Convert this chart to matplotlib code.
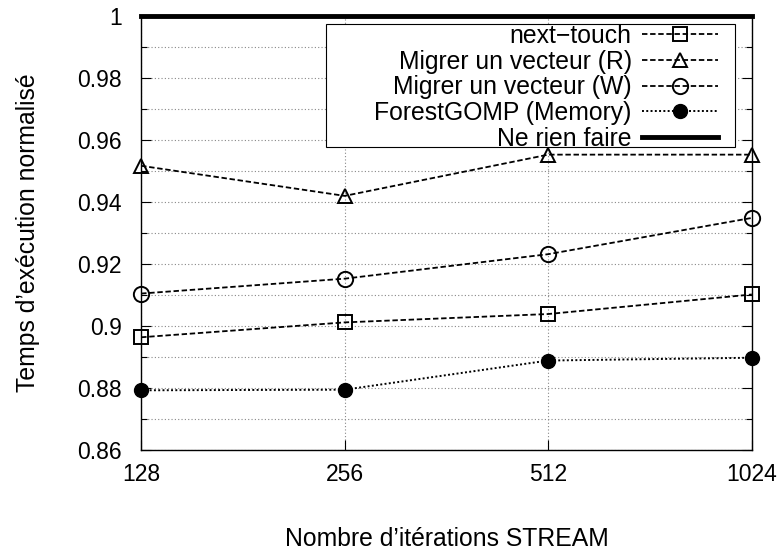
import matplotlib
matplotlib.use("Agg")
import matplotlib.pyplot as plt
from matplotlib.patches import Rectangle
from matplotlib.ticker import FixedLocator, MultipleLocator, FuncFormatter

plt.rcParams['font.family'] = ['Liberation Sans', 'DejaVu Sans']

iterations = [128, 256, 512, 1024]
next_touch = [0.8964, 0.9012, 0.9039, 0.9102]
migr_r = [0.9517, 0.9420, 0.9553, 0.9553]
migr_w = [0.9105, 0.9153, 0.9232, 0.9349]
forest = [0.8793, 0.8795, 0.8889, 0.8898]
nothing = [1.0, 1.0, 1.0, 1.0]
labels = ["next\u2212touch", "Migrer un vecteur (R)", "Migrer un vecteur (W)",
          "ForestGOMP (Memory)", "Ne rien faire"]
y_ticks = [0.86, 0.88, 0.9, 0.92, 0.94, 0.96, 0.98, 1]

FS = 16.5
FS_LAB = 17.8

fig = plt.figure(figsize=(7.84, 5.53), dpi=100)
ax = fig.add_axes([0.180, 0.186, 0.779, 0.785])

ax.set_xscale('log', base=2)
ax.set_xlim(iterations[0], iterations[-1])
ax.set_ylim(0.86, 1.0)

dash = (0, (3, 1.5))
ax.plot(iterations, next_touch, color='black', lw=1.3, linestyle=dash, marker='s',
        ms=10.5, mfc='none', mec='black', mew=1.4, label=labels[0], clip_on=False, zorder=3)
ax.plot(iterations, migr_r, color='black', lw=1.3, linestyle=dash, marker='^',
        ms=10.5, mfc='none', mec='black', mew=1.4, label=labels[1], clip_on=False, zorder=3)
ax.plot(iterations, migr_w, color='black', lw=1.3, linestyle=dash, marker='o',
        ms=11, mfc='none', mec='black', mew=1.4, label=labels[2], clip_on=False, zorder=3)
ax.plot(iterations, forest, color='black', lw=1.4, linestyle=(0, (1, 1.2)), marker='o',
        ms=10, mfc='black', mec='black', label=labels[3], clip_on=False, zorder=3)
ax.plot(iterations, nothing, color='black', lw=3.5, label=labels[4], clip_on=False, zorder=4)

ax.xaxis.set_major_locator(FixedLocator(iterations))
ax.xaxis.set_minor_locator(FixedLocator([]))
ax.xaxis.set_major_formatter(FuncFormatter(lambda v, p: f"{int(round(v))}"))
ax.yaxis.set_major_locator(FixedLocator(y_ticks))
ax.yaxis.set_minor_locator(MultipleLocator(0.01))
ax.yaxis.set_major_formatter(FuncFormatter(lambda v, p: f"{v:g}"))

ax.tick_params(axis='both', which='both', direction='in', labelsize=FS,
               right=True, top=False, width=0.8)
ax.tick_params(axis='y', which='major', length=7, pad=14)
ax.tick_params(axis='x', which='major', length=7, pad=9)
ax.tick_params(axis='y', which='minor', length=4)

ax.grid(True, which='both', axis='y', color='#888888', linestyle=(0, (1, 2)), lw=0.8)
ax.grid(True, which='major', axis='x', color='#888888', linestyle=(0, (1, 2)), lw=0.8)

for s in ax.spines.values():
    s.set_linewidth(1.0)

ax.set_xlabel("Nombre d\u2019it\u00e9rations STREAM", fontsize=FS_LAB, labelpad=30)
ax.set_ylabel("Temps d\u2019ex\u00e9cution normalis\u00e9", fontsize=FS_LAB, labelpad=27)

# legend box (gnuplot-style key frame)
ax.add_patch(Rectangle((0.303, 0.698), 0.669, 0.2836, transform=ax.transAxes,
                       facecolor='white', edgecolor='black', lw=0.8, zorder=5))

leg = ax.legend(loc='upper right', bbox_to_anchor=(0.945, 0.982), markerfirst=False,
                fontsize=FS_LAB, frameon=False,
                handlelength=3.1, borderpad=0.0, labelspacing=0.07, handletextpad=0.4,
                borderaxespad=0.0)
leg.set_zorder(6)
for t in leg.get_texts():
    t.set_ha('right')
leg._legend_box.align = "right"

fig.savefig("out.png", dpi=100)
